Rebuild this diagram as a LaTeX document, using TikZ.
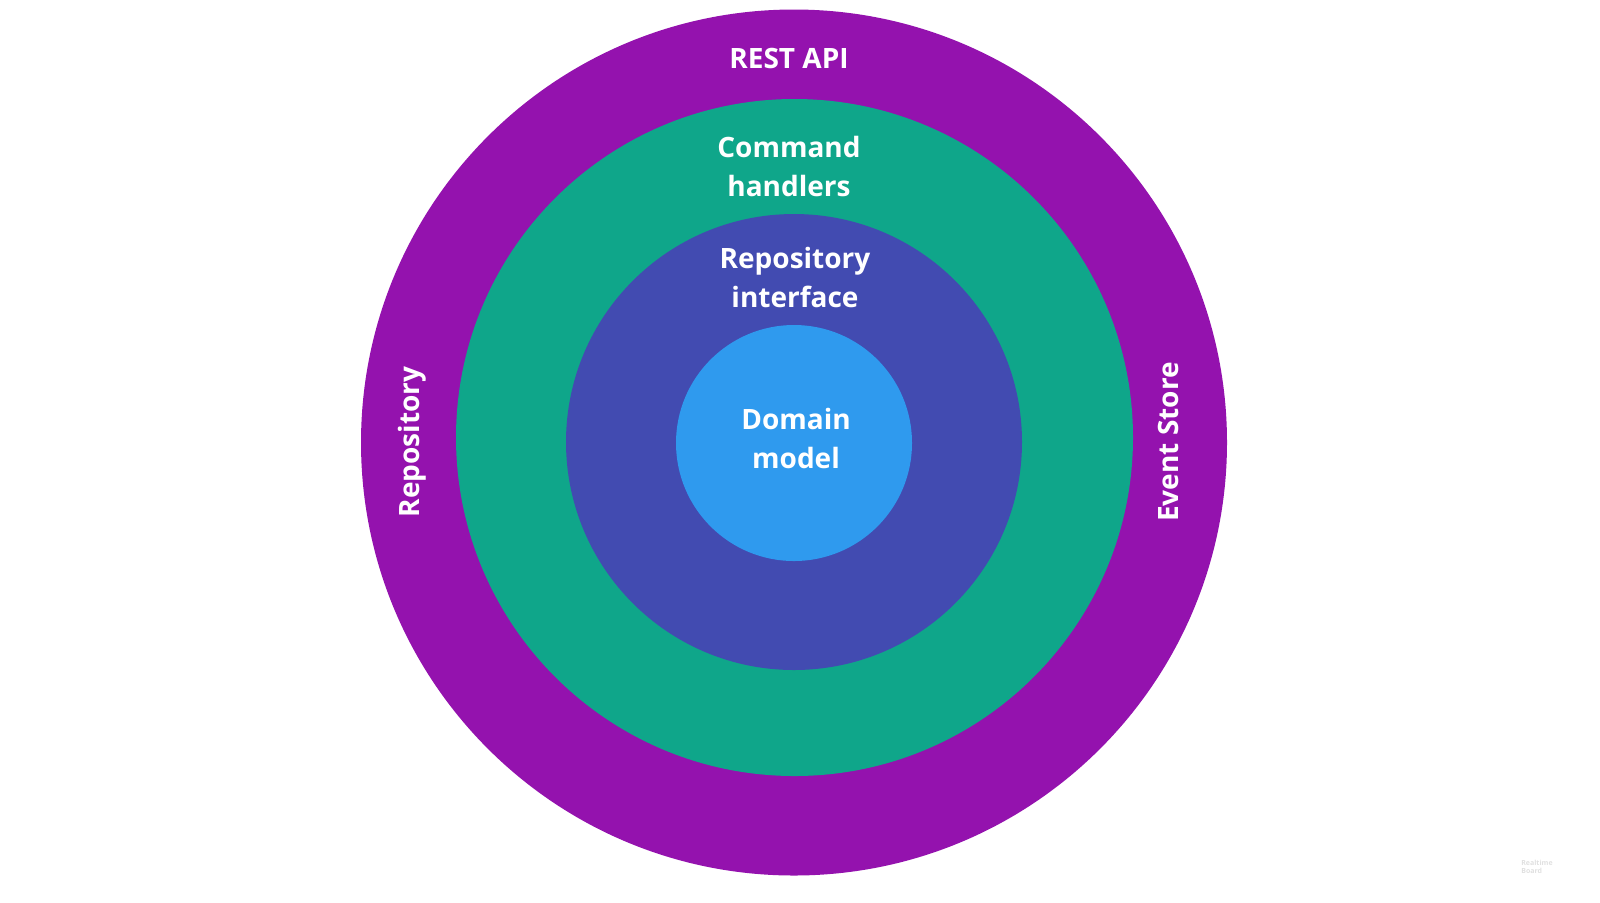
\documentclass[tikz,border=0pt]{standalone}
\usepackage{fontspec}
\setmainfont{Open Sans}
\definecolor{ringpurple}{HTML}{9412AE}
\definecolor{ringgreen}{HTML}{0FA68A}
\definecolor{ringindigo}{HTML}{424BB1}
\definecolor{ringblue}{HTML}{2F9AEE}
\begin{document}
\begin{tikzpicture}[x=0.5pt,y=-0.5pt,
  ring/.style={circle,draw=none,inner sep=0pt},
  lbl/.style={text=white,font=\fontsize{14}{19.5}\selectfont\bfseries,align=center,inner sep=0pt}]
\useasboundingbox (0,0) rectangle (1600,902);
\node[ring,fill=ringpurple,minimum size=433pt] (outer) at (794,442.5) {};
\node[ring,fill=ringgreen,minimum size=338.5pt] (green) at (794.5,437.5) {};
\node[ring,fill=ringindigo,minimum size=228pt] (indigo) at (794,442) {};
\node[ring,fill=ringblue,minimum size=118pt] (core) at (794,443) {};
\node[lbl] (rest) at (789,58) {REST API};
\node[lbl] (cmd) at (789,166) {Command\\handlers};
\node[lbl] (repoif) at (795,277) {Repository\\interface};
\node[lbl] (domain) at (796,438) {Domain\\model};
\node[lbl,rotate=90] (repo) at (412,442) {Repository};
\node[lbl,rotate=90] (evstore) at (1168,442) {Event Store};
\node[text=black!12,font=\fontsize{3.5}{4}\selectfont\bfseries,align=left,inner sep=0pt] (wm) at (1537,867) {Realtime\\Board};
\end{tikzpicture}
\end{document}
